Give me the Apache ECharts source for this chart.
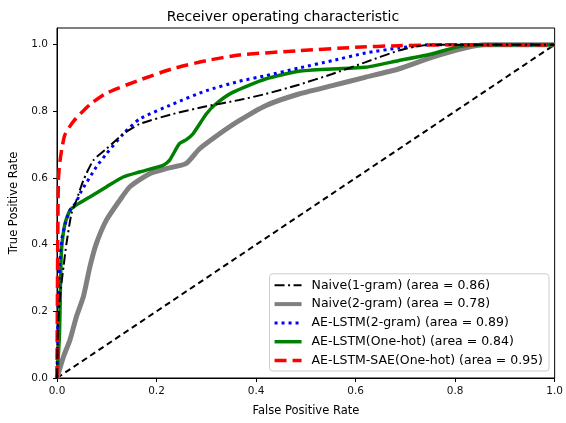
<!DOCTYPE html>
<html><head><meta charset="utf-8">
<script src="https://cdn.jsdelivr.net/npm/echarts@6/dist/echarts.min.js"></script>
<style>html,body{margin:0;padding:0;background:#fff}#c{width:566px;height:423px}</style>
</head><body><div id="c"></div>
<script>
const tickValues = [0, 0.2, 0.4, 0.6, 0.8, 1.0];
const seriesNames = [
  'Naive(1-gram) (area = 0.86)',
  'Naive(2-gram) (area = 0.78)',
  'AE-LSTM(2-gram) (area = 0.89)',
  'AE-LSTM(One-hot) (area = 0.84)',
  'AE-LSTM-SAE(One-hot) (area = 0.95)'
];
const naive1 = [[0,0],[0.002,0.15],[0.006,0.244],[0.013,0.333],[0.019,0.403],[0.029,0.493],[0.039,0.533],[0.053,0.593],[0.073,0.653],[0.099,0.687],[0.133,0.732],[0.166,0.762],[0.233,0.792],[0.30,0.815],[0.366,0.834],[0.419,0.852],[0.486,0.88],[0.553,0.912],[0.619,0.947],[0.686,0.982],[0.719,0.994],[0.75,1.0],[1,1]];
const naive2 = [[0,0],[0.013,0.064],[0.026,0.114],[0.039,0.184],[0.053,0.244],[0.066,0.333],[0.079,0.403],[0.099,0.473],[0.126,0.533],[0.146,0.573],[0.186,0.613],[0.219,0.628],[0.259,0.643],[0.286,0.687],[0.326,0.732],[0.366,0.772],[0.419,0.817],[0.486,0.852],[0.553,0.877],[0.619,0.902],[0.686,0.927],[0.753,0.962],[0.819,0.99],[0.86,1.0],[1,1]];
const aeLstm2 = [[0,0],[0.002,0.2],[0.005,0.33],[0.01,0.42],[0.018,0.47],[0.026,0.503],[0.039,0.528],[0.046,0.553],[0.079,0.633],[0.099,0.672],[0.133,0.732],[0.166,0.777],[0.233,0.822],[0.30,0.862],[0.366,0.89],[0.419,0.907],[0.486,0.93],[0.553,0.952],[0.62,0.975],[0.686,0.99],[0.753,1.0],[1,1]];
const aeLstmOH = [[0,0],[0.005,0.133],[0.007,0.283],[0.009,0.383],[0.016,0.463],[0.026,0.503],[0.04,0.52],[0.066,0.543],[0.099,0.573],[0.133,0.603],[0.166,0.618],[0.213,0.638],[0.226,0.653],[0.246,0.703],[0.26,0.715],[0.273,0.732],[0.30,0.792],[0.319,0.822],[0.353,0.857],[0.419,0.897],[0.486,0.92],[0.553,0.927],[0.619,0.932],[0.686,0.952],[0.753,0.972],[0.806,0.994],[0.86,1.0],[1,1]];
const aeLstmSae = [[0,0],[0.001,0.3],[0.002,0.5],[0.003,0.6],[0.006,0.65],[0.01,0.69],[0.016,0.73],[0.033,0.77],[0.066,0.82],[0.10,0.855],[0.166,0.894],[0.233,0.928],[0.30,0.952],[0.366,0.969],[0.486,0.982],[0.6,0.992],[0.686,0.997],[0.82,1.0],[1,1]];
const diagonal = [[0,0],[1,1]];

const font = 'DejaVu Sans';
const chart = echarts.init(document.getElementById('c'));
const styles = [
  {color: '#000000', width: 2, type: [10, 3.5, 2, 3.5], z: 6},
  {color: '#808080', width: 5, type: 'solid', z: 2},
  {color: '#0000ff', width: 3, type: [3, 4], z: 4},
  {color: '#008000', width: 3.5, type: 'solid', z: 3},
  {color: '#ff0000', width: 3.5, type: [12, 6], z: 5}
];
const datasets = [naive1, naive2, aeLstm2, aeLstmOH, aeLstmSae];
const series = [
  {type: 'line', data: diagonal, symbol: 'none', lineStyle: {color: '#000', width: 2, type: [6, 4]}, z: 1, silent: true}
];
seriesNames.forEach((name, i) => {
  const s = styles[i];
  series.push({
    name: name, type: 'line', data: datasets[i], symbol: 'none', smooth: 0.2, z: s.z,
    lineStyle: {color: s.color, width: s.width, type: s.type, cap: 'butt'},
    itemStyle: {color: s.color}
  });
});
chart.setOption({
  animation: false,
  title: {text: 'Receiver operating characteristic', left: 'center', top: 5,
    textStyle: {fontFamily: font, fontSize: 14, fontWeight: 'normal', color: '#000'}},
  grid: {left: 57, right: 9, top: 28, bottom: 45, show: true, borderColor: '#000', borderWidth: 1},
  xAxis: {type: 'value', min: 0, max: 1, interval: 0.2,
    name: 'False Positive Rate', nameLocation: 'middle', nameGap: 27,
    nameTextStyle: {fontFamily: font, fontSize: 11.5, color: '#000'},
    axisLine: {show: true, lineStyle: {color: '#000'}},
    axisTick: {show: true, inside: false, length: 4, lineStyle: {color: '#000'}},
    axisLabel: {fontFamily: font, fontSize: 10.5, color: '#111', margin: 8, formatter: v => v.toFixed(1)},
    splitLine: {show: false}},
  yAxis: {type: 'value', min: 0, max: 1.05,
    name: 'True Positive Rate', nameLocation: 'middle', nameGap: 31,
    nameTextStyle: {fontFamily: font, fontSize: 11.5, color: '#000'},
    axisLine: {show: true, lineStyle: {color: '#000'}},
    axisTick: {show: true, length: 4, customValues: tickValues, lineStyle: {color: '#000'}},
    axisLabel: {fontFamily: font, fontSize: 10.5, color: '#111', margin: 9, customValues: tickValues, formatter: v => v.toFixed(1)},
    splitLine: {show: false}},
  legend: {orient: 'vertical', right: 17, bottom: 52,
    backgroundColor: '#fff', borderColor: '#ccc', borderWidth: 1, borderRadius: 3,
    padding: [5, 6, 4, 3], itemWidth: 27, itemHeight: 13, itemGap: 5.8,
    itemStyle: {opacity: 0},
    textStyle: {fontFamily: font, fontSize: 12.5, color: '#000', padding: [0, 0, 0, 5]},
    data: seriesNames.map((name, i) => ({
      name: name,
      lineStyle: {width: Math.min(styles[i].width, 4), type: styles[i].type, color: styles[i].color, cap: 'butt'}
    }))},
  series: series
});
</script></body></html>
